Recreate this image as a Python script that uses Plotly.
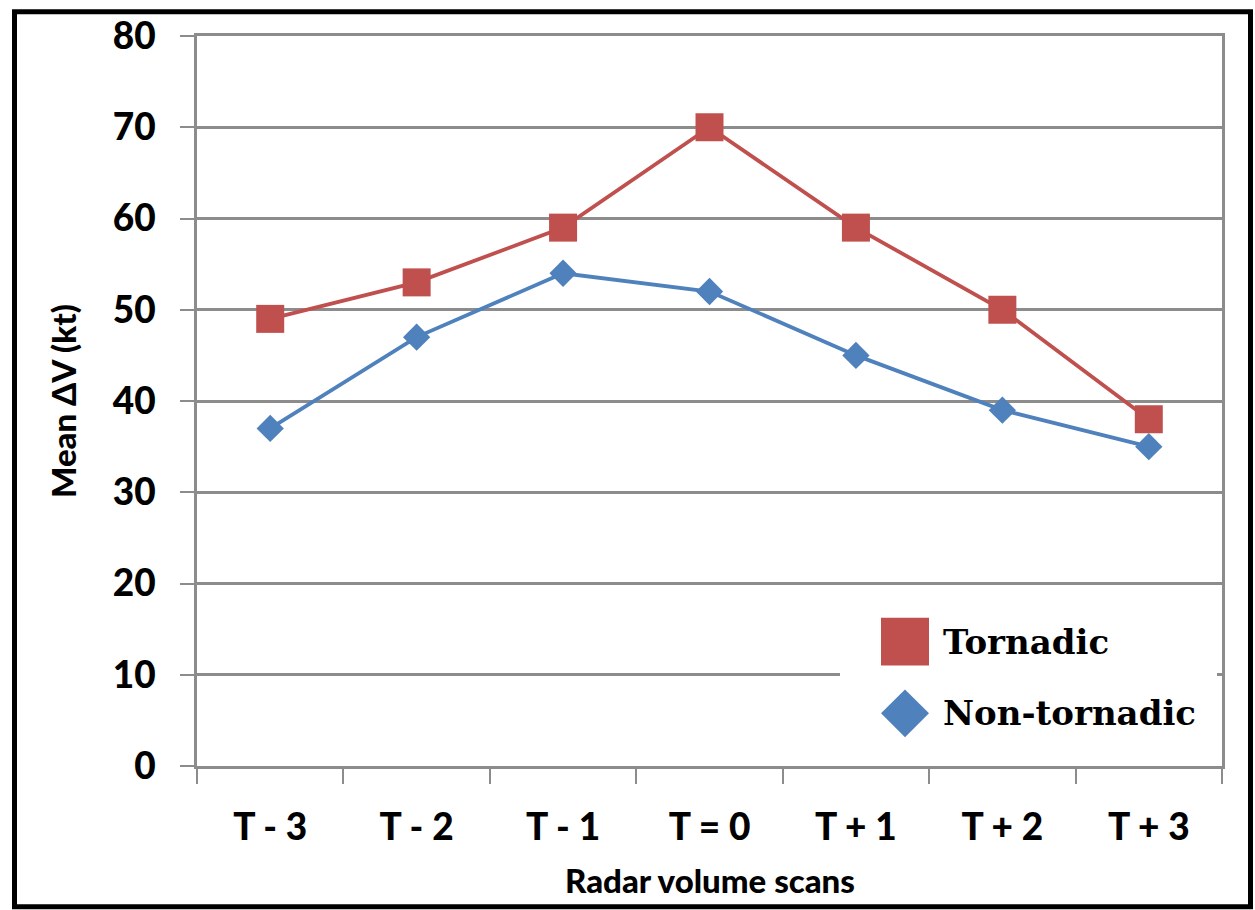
import plotly.graph_objects as go

categories = ["T - 3", "T - 2", "T - 1", "T = 0", "T + 1", "T + 2", "T + 3"]
tornadic = [49, 53, 59, 70, 59, 50, 38]
non_tornadic = [37, 47, 54, 52, 45, 39, 35]
y_ticks = [0, 10, 20, 30, 40, 50, 60, 70, 80]

RED = "#C0504D"
BLUE = "#4F81BD"
GRID = "#8C8C8C"

W, H = 1255, 910
L, R, T, B = 197, 1222, 32, 766


def px_x(p):
    return (p - L) / (R - L)


def px_y(p):
    return (B - p) / (B - T)


fig = go.Figure()
fig.add_trace(go.Scatter(
    x=categories, y=non_tornadic, name="Non-tornadic", mode="lines+markers",
    line=dict(color=BLUE, width=3.8),
    marker=dict(symbol="diamond", size=21, color=BLUE),
    showlegend=False,
))
fig.add_trace(go.Scatter(
    x=categories, y=tornadic, name="Tornadic", mode="lines+markers",
    line=dict(color=RED, width=3.8),
    marker=dict(symbol="square", size=28, color=RED),
    showlegend=False,
))

tick_font = dict(family="Lato", size=37, color="black", weight=900)

fig.update_xaxes(
    type="category", categoryorder="array", categoryarray=categories,
    range=[-0.5, 6.5], tickson="boundaries",
    ticks="outside", ticklen=15, tickwidth=2, tickcolor=GRID,
    showline=True, linecolor=GRID, linewidth=3, mirror=True,
    showgrid=False, zeroline=False, tickfont=tick_font,
    ticklabelstandoff=27,
)
fig.update_yaxes(
    range=[0, 80], tickvals=y_ticks, ticktext=[str(v) for v in y_ticks],
    ticks="outside", ticklen=14, tickwidth=2, tickcolor=GRID,
    showline=True, linecolor=GRID, linewidth=3, mirror=True,
    showgrid=True, gridcolor=GRID, gridwidth=3, zeroline=False,
    tickfont=tick_font, ticklabelstandoff=17,
)

shapes = [
    # white legend box covering gridline
    dict(type="rect", xref="paper", yref="paper",
         x0=px_x(840), x1=px_x(1217), y0=px_y(755), y1=px_y(605),
         fillcolor="white", line=dict(width=0), layer="above"),
    # legend square
    dict(type="rect", xref="paper", yref="paper",
         x0=px_x(881), x1=px_x(929), y0=px_y(665), y1=px_y(617),
         fillcolor=RED, line=dict(width=0), layer="above"),
    # outer black frame
    dict(type="rect", xref="paper", yref="paper",
         x0=px_x(14.5), x1=px_x(1250.5), y0=px_y(907.5), y1=px_y(7.5),
         fillcolor="rgba(0,0,0,0)", line=dict(color="black", width=5), layer="above"),
]
# legend diamond
cx, cy, hr = 905, 713, 24
path = "M {},{} L {},{} L {},{} L {},{} Z".format(
    px_x(cx), px_y(cy - hr), px_x(cx + hr), px_y(cy),
    px_x(cx), px_y(cy + hr), px_x(cx - hr), px_y(cy))
shapes.append(dict(type="path", xref="paper", yref="paper", path=path,
                   fillcolor=BLUE, line=dict(width=0), layer="above"))

legend_font = dict(family="DejaVu Serif", size=34, color="black", weight="bold")
annotations = [
    dict(text="Mean ΔV (kt)", xref="paper", yref="paper", x=px_x(63), y=px_y(399),
         xanchor="center", yanchor="middle", textangle=-90, showarrow=False,
         font=dict(family="Lato", size=33, color="black", weight=900)),
    dict(text="Radar volume scans", xref="paper", yref="paper", x=px_x(710), y=px_y(881),
         xanchor="center", yanchor="middle", showarrow=False,
         font=dict(family="Lato", size=33, color="black", weight=900)),
    dict(text="Tornadic", xref="paper", yref="paper", x=px_x(941), y=px_y(641),
         xanchor="left", yanchor="middle", showarrow=False, font=legend_font),
    dict(text="Non-tornadic", xref="paper", yref="paper", x=px_x(941), y=px_y(713),
         xanchor="left", yanchor="middle", showarrow=False, font=legend_font),
]

fig.update_layout(
    width=W, height=H,
    margin=dict(l=L, r=W - R, t=T, b=H - B, pad=0),
    paper_bgcolor="white", plot_bgcolor="white",
    shapes=shapes, annotations=annotations,
    showlegend=False,
)

fig.write_html("out.html", config={"displayModeBar": False},
               post_script="document.body.style.margin='0';document.body.style.overflow='hidden';")
